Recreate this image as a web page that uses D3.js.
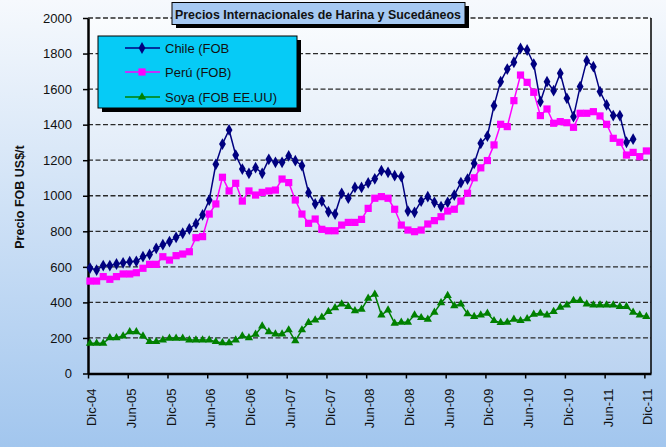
<!DOCTYPE html>
<html>
<head>
<meta charset="utf-8">
<script src="https://cdn.jsdelivr.net/npm/d3@7"></script>
<style>
  body { margin: 0; }
  svg { display: block; font-family: "Liberation Sans", Arial, sans-serif; }
</style>
</head>
<body>
<div></div>
<script>
// valores mensuales Dic-04 ... Dic-11 (US$/t)
var chile = [593,582,607,607,616,623,629,631,657,670,
    704,725,742,766,789,813,843,892,976,1177,
    1291,1370,1229,1150,1126,1158,1126,1205,1188,1188,
    1224,1197,1169,1017,954,970,910,897,1014,986,
    1047,1047,1072,1095,1141,1132,1113,1107,914,907,
    970,995,963,939,963,1004,1074,1094,1182,1295,
    1336,1507,1642,1713,1751,1829,1820,1741,1529,1642,
    1591,1689,1548,1445,1614,1760,1726,1586,1511,1451,
    1451,1301,1318];
var peru = [520,520,545,530,545,560,560,567,592,614,
    614,657,638,663,672,685,764,770,897,954,
    1104,1027,1070,970,1027,1004,1019,1027,1032,1094,
    1074,976,897,845,869,811,803,803,835,850,
    850,867,929,986,995,986,924,835,807,798,
    807,841,860,882,914,924,970,1014,1101,1157,
    1198,1286,1402,1389,1535,1679,1638,1582,1451,1488,
    1408,1417,1411,1385,1464,1464,1473,1449,1402,1323,
    1301,1229,1244,1220,1252];
var soya = [170,170,170,201,201,211,235,235,211,179,
    179,188,198,198,198,188,188,188,188,179,
    172,172,188,211,201,220,267,235,222,222,
    245,183,245,286,301,316,348,370,391,376,
    353,361,423,446,329,357,282,288,288,329,
    314,305,344,398,438,381,391,335,320,329,
    339,297,286,288,305,297,307,333,339,329,
    348,372,385,410,410,391,385,385,385,385,
    376,376,344,329,320];
var xLabels = ['Dic-04','Jun-05','Dic-05','Jun-06','Dic-06','Jun-07','Dic-07','Jun-08',
    'Dic-08','Jun-09','Dic-09','Jun-10','Dic-10','Jun-11','Dic-11'];
var yTicks = [0,200,400,600,800,1000,1200,1400,1600,1800,2000];
var seriesNames = ['Chile (FOB', 'Perú (FOB)', 'Soya (FOB EE.UU)'];

var width = 666;
var height = 447;
var plotLeft = 88, plotRight = 651, plotTop = 18, plotBottom = 373.5;

var series = [
    {name: seriesNames[0], values: chile, color: '#000080', symbol: d3.symbolDiamond, size: 40},
    {name: seriesNames[1], values: peru, color: '#ff00ff', symbol: d3.symbolSquare, size: 52},
    {name: seriesNames[2], values: soya, color: '#008000', symbol: d3.symbolTriangle, size: 30}
];

var svg = d3.select('div')
    .append('svg')
    .attr('width', width)
    .attr('height', height);

var defs = svg.append('defs');
var g1 = defs.append('linearGradient').attr('id', 'bgOut').attr('x1', 0).attr('y1', 0).attr('x2', 0).attr('y2', 1);
g1.append('stop').attr('offset', '0%').attr('stop-color', '#f6f9fd');
g1.append('stop').attr('offset', '100%').attr('stop-color', '#a2c6ee');
var g2 = defs.append('linearGradient').attr('id', 'bgPlot').attr('x1', 0).attr('y1', 0).attr('x2', 0).attr('y2', 1);
g2.append('stop').attr('offset', '0%').attr('stop-color', '#fafcfe');
g2.append('stop').attr('offset', '100%').attr('stop-color', '#bcd4f1');

svg.append('rect')
    .attr('width', width)
    .attr('height', height)
    .attr('fill', 'url(#bgOut)');

svg.append('rect')
    .attr('x', plotLeft)
    .attr('y', plotTop)
    .attr('width', plotRight - plotLeft)
    .attr('height', plotBottom - plotTop)
    .attr('fill', 'url(#bgPlot)');

var x = d3.scaleLinear().domain([0, 85]).range([plotLeft, plotRight]);
var y = d3.scaleLinear().domain([0, 2000]).range([plotBottom, plotTop]);

// lineas de grilla
svg.append('g')
    .selectAll('line')
    .data(yTicks.slice(1))
    .enter()
    .append('line')
    .attr('x1', plotLeft)
    .attr('x2', plotRight)
    .attr('y1', (d) => y(d))
    .attr('y2', (d) => y(d))
    .attr('stroke', '#2a2a2a')
    .attr('stroke-width', 1.3)
    .attr('stroke-dasharray', '5,2.5');

// borde derecho
svg.append('line')
    .attr('x1', plotRight).attr('x2', plotRight)
    .attr('y1', plotTop).attr('y2', plotBottom)
    .attr('stroke', 'black')
    .attr('stroke-width', 1.5);

// eje Y
var yAxis = d3.axisLeft(y)
    .tickValues(yTicks)
    .tickFormat(d3.format('d'))
    .tickSize(5)
    .tickSizeOuter(0);
var gy = svg.append('g')
    .attr('transform', 'translate(' + plotLeft + ',0)')
    .call(yAxis);
gy.select('.domain').attr('stroke', 'black').attr('stroke-width', 2.5);
gy.selectAll('.tick line').attr('stroke', 'black').attr('stroke-width', 1.5);
gy.selectAll('.tick text')
    .attr('x', -16)
    .attr('font-size', 13)
    .attr('font-family', '"Liberation Sans", Arial, sans-serif')
    .attr('fill', '#111');

// eje X
var xAxis = d3.axisBottom(x)
    .tickValues(d3.range(0, 85, 6))
    .tickFormat((d, i) => xLabels[i])
    .tickSize(5)
    .tickSizeOuter(0);
var gx = svg.append('g')
    .attr('transform', 'translate(0,' + plotBottom + ')')
    .call(xAxis);
gx.select('.domain').attr('stroke', 'black').attr('stroke-width', 2.5);
gx.selectAll('.tick line').attr('stroke', 'black').attr('stroke-width', 1.5);
gx.selectAll('.tick text')
    .attr('transform', 'rotate(-90)')
    .attr('x', -15)
    .attr('y', 3)
    .attr('dy', '0.35em')
    .attr('text-anchor', 'end')
    .attr('font-size', 13)
    .attr('font-family', '"Liberation Sans", Arial, sans-serif')
    .attr('fill', '#111');

// series
var line = d3.line()
    .x((d, i) => x(i + 0.3))
    .y((d) => y(d));

series.forEach(function (s) {
    svg.append('path')
        .datum(s.values)
        .attr('d', line)
        .attr('fill', 'none')
        .attr('stroke', s.color)
        .attr('stroke-width', 1.5);
    svg.append('g')
        .selectAll('path')
        .data(s.values)
        .enter()
        .append('path')
        .attr('d', d3.symbol().type(s.symbol).size(s.size))
        .attr('transform', (d, i) => 'translate(' + x(i + 0.3) + ',' + y(d) + ')')
        .attr('fill', s.color);
});

// titulo eje Y
svg.append('text')
    .attr('transform', 'translate(24,197) rotate(-90)')
    .attr('text-anchor', 'middle')
    .attr('font-size', 12.5)
    .attr('font-weight', 'bold')
    .attr('fill', '#111')
    .text('Precio FOB US$/t');

// titulo
svg.append('rect')
    .attr('x', 176).attr('y', 6)
    .attr('width', 293).attr('height', 22)
    .attr('fill', 'black');
svg.append('rect')
    .attr('x', 172).attr('y', 2.5)
    .attr('width', 293).attr('height', 22)
    .attr('fill', '#a6c9f2')
    .attr('stroke', 'black')
    .attr('stroke-width', 1);
svg.append('text')
    .attr('x', 318)
    .attr('y', 18.5)
    .attr('text-anchor', 'middle')
    .attr('font-family', '"Liberation Sans Narrow", "Liberation Sans", Arial, sans-serif')
    .attr('font-size', 13.5)
    .attr('font-weight', 'bold')
    .attr('textLength', 286)
    .attr('lengthAdjust', 'spacingAndGlyphs')
    .attr('fill', '#111')
    .text('Precios Internacionales de Harina y Sucedáneos');

// leyenda
var legend = svg.append('g');
legend.append('rect')
    .attr('x', 102).attr('y', 40)
    .attr('width', 199).attr('height', 72)
    .attr('fill', 'black');
legend.append('rect')
    .attr('x', 98).attr('y', 36)
    .attr('width', 199).attr('height', 72)
    .attr('fill', '#06cbf6')
    .attr('stroke', 'black')
    .attr('stroke-width', 1);

var rowY = [48, 72, 97];
var items = legend.selectAll('g.item')
    .data(series)
    .enter()
    .append('g')
    .attr('class', 'item')
    .attr('transform', (d, i) => 'translate(0,' + rowY[i] + ')');
items.append('line')
    .attr('x1', 125).attr('x2', 160)
    .attr('stroke', (d) => d.color)
    .attr('stroke-width', 1.5);
items.append('path')
    .attr('d', (d) => d3.symbol().type(d.symbol).size(d.size)())
    .attr('transform', 'translate(142,0)')
    .attr('fill', (d) => d.color);
items.append('text')
    .attr('x', 165)
    .attr('dy', '0.35em')
    .attr('font-size', 13)
    .attr('fill', '#111')
    .text((d) => d.name);
</script>
</body>
</html>
